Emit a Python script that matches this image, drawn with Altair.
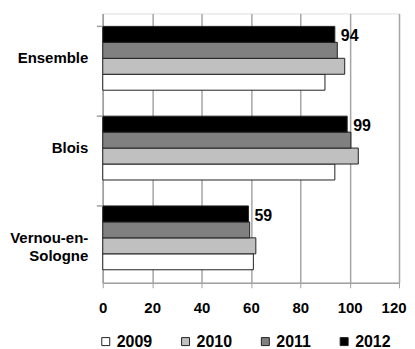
import altair as alt
import pandas as pd

categories = ["Ensemble", "Blois", "Vernou-en-Sologne"]
years = ["2009", "2010", "2011", "2012"]
v2009 = [90, 94, 61]
v2010 = [98, 103.5, 62]
v2011 = [95, 100.5, 59.5]
v2012 = [94, 99, 59]
colors = ["#ffffff", "#c0c0c0", "#808080", "#000000"]
x_ticks = [0, 20, 40, 60, 80, 100, 120]

rows = []
for yr, vals in zip(years, [v2009, v2010, v2011, v2012]):
    for c, v in zip(categories, vals):
        rows.append({"cat": c, "year": yr, "value": v})
df = pd.DataFrame(rows)
cat_df = pd.DataFrame({"cat": categories})

FONT = "Liberation Sans"

y_enc = alt.Y(
    "cat:N",
    sort=categories,
    scale=alt.Scale(paddingInner=0.289, paddingOuter=0.1445),
    axis=alt.Axis(
        title=None,
        ticks=False,
        labelFont=FONT,
        labelFontSize=15,
        labelFontWeight="bold",
        labelColor="#000000",
        labelPadding=15,
        labelLineHeight=18,
        labelExpr="datum.value == 'Vernou-en-Sologne' ? ['Vernou-en-', 'Sologne\u2007'] : datum.label",
        domainColor="#a0a0a0",
        domainWidth=1.5,
        minExtent=95,
        maxExtent=95,
    ),
)

x_enc = alt.X(
    "value:Q",
    scale=alt.Scale(domain=[0, 120], nice=False),
    axis=alt.Axis(
        title=None,
        values=x_ticks,
        labelFont=FONT,
        labelFontSize=15,
        labelFontWeight="bold",
        labelColor="#000000",
        labelFlush=False,
        labelOverlap=False,
        labelPadding=13,
        labelOffset=alt.condition("datum.value == 120", alt.value(-5.5), alt.value(0)),
        tickSize=5,
        tickColor="#a0a0a0",
        domainColor="#a0a0a0",
        domainWidth=1.5,
        grid=True,
        gridColor="#a6a6a6",
        gridWidth=1.5,
    ),
)

bars = alt.Chart(df).mark_bar(stroke="#222222", strokeWidth=1).encode(
    y=y_enc,
    x=x_enc,
    yOffset=alt.YOffset("year:N", sort="descending", scale=alt.Scale(paddingInner=0, paddingOuter=0)),
    color=alt.Color(
        "year:N",
        scale=alt.Scale(domain=years, range=colors),
        legend=alt.Legend(
            title=None,
            orient="none",
            legendX=-5,
            legendY=321,
            direction="horizontal",
            columns=4,
            columnPadding=25,
            padding=0,
            symbolType="square",
            symbolSize=64,
            symbolStrokeColor="#222222",
            symbolStrokeWidth=1,
            symbolOpacity=1,
            labelFont=FONT,
            labelFontSize=16,
            labelFontWeight="bold",
            labelColor="#000000",
            labelOffset=3,
        ),
    ),
)

labels = alt.Chart(df).transform_filter(alt.datum.year == "2012").mark_text(
    align="left", baseline="middle", dx=6, dy=2,
    font=FONT, fontSize=16, fontWeight="bold", color="#000000",
).encode(
    y=alt.Y("cat:N", sort=categories),
    x="value:Q",
    yOffset=alt.YOffset("year:N", sort="descending"),
    text=alt.Text("value:Q", format=".0f"),
)

yticks = alt.Chart(cat_df).mark_rule(color="#a0a0a0", strokeWidth=1.5).encode(
    y=alt.Y("cat:N", sort=categories, bandPosition=0),
    x=alt.value(-6),
    x2=alt.value(0),
)

chart = alt.layer(bars, labels, yticks).properties(
    width=297,
    height=270,
    padding={"left": 0, "top": 5, "right": 0, "bottom": 0},
).configure_view(
    stroke="#a0a0a0", strokeWidth=1.5
).configure_legend(
    symbolType="square"
).configure(background="#ffffff")

chart.save("out.html", embed_options={"renderer": "svg", "actions": False})
